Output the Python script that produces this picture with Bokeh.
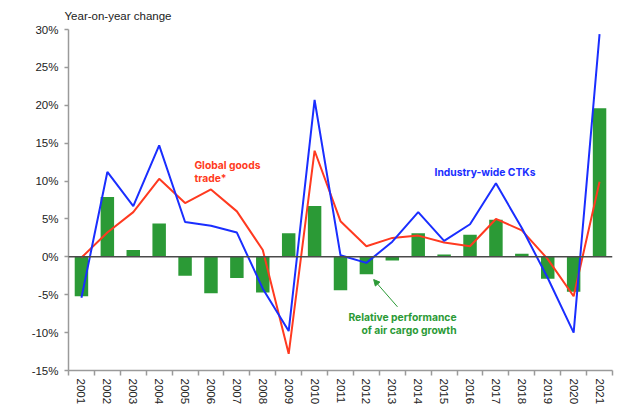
from bokeh.plotting import figure
from bokeh.models import FixedTicker, Span, Label, Arrow, NormalHead
from bokeh.embed import file_html
from bokeh.resources import INLINE

years = list(range(2001, 2022))
ctks = [-5.4, 11.2, 6.7, 14.7, 4.6, 4.1, 3.2, -4.2, -9.8, 20.7, 0.2, -0.8, 2.0, 5.9, 2.1, 4.3, 9.7, 3.8, -2.8, -10.0, 29.4]
goods = [-0.1, 3.2, 5.9, 10.3, 7.1, 8.9, 6.0, 0.9, -12.8, 14.0, 4.7, 1.4, 2.5, 2.8, 1.9, 1.4, 5.0, 3.5, -0.3, -5.2, 9.9]
relative = [-5.2, 7.9, 0.9, 4.4, -2.5, -4.8, -2.8, -4.7, 3.1, 6.7, -4.4, -2.3, -0.5, 3.1, 0.3, 2.9, 4.9, 0.4, -2.9, -4.6, 19.6]
y_ticks = [-15, -10, -5, 0, 5, 10, 15, 20, 25, 30]
y_labels = {t: f"{t}%" for t in y_ticks}

BLUE = "#1a2eff"
RED = "#ff3a20"
GREEN = "#2b9a36"
FONT = "Liberation Sans"
BOLD = "Inter"

p = figure(width=640, height=407, output_backend="svg", toolbar_location=None,
           x_range=(years[0] - 0.5, years[-1] + 0.5), y_range=(y_ticks[0], y_ticks[-1]),
           min_border_left=68, min_border_right=28, min_border_top=29, min_border_bottom=34,
           title="Year-on-year change")
p.title.align = "left"
p.title.offset = -4
p.title.standoff = 15
p.title.text_font = FONT
p.title.text_font_style = "normal"
p.title.text_font_size = "11.5px"
p.title.text_color = "#222222"

p.outline_line_color = None
p.xgrid.grid_line_color = None
p.ygrid.grid_line_color = None
p.background_fill_color = "white"
p.border_fill_color = "white"

p.vbar(x=years, top=relative, width=0.52, fill_color=GREEN, line_color=None)
p.add_layout(Span(location=0, dimension="width", line_color="#4a4a4a", line_width=1.5))
p.line(years, goods, line_color=RED, line_width=2)
p.line(years, ctks, line_color=BLUE, line_width=2)

# axes
xa = p.xaxis[0]
xa.ticker = FixedTicker(ticks=years, minor_ticks=[y - 0.5 for y in years] + [years[-1] + 0.5])
xa.major_label_overrides = {y: str(y) for y in years}
xa.major_label_orientation = "vertical"
xa.major_tick_out = 0
xa.major_tick_in = 0
xa.minor_tick_out = 5
xa.minor_tick_in = 0
xa.minor_tick_line_color = "#9a9a9a"
xa.minor_tick_line_width = 1.5
xa.axis_line_color = "#9a9a9a"
xa.axis_line_width = 1.5
xa.major_label_text_font = FONT
xa.major_label_text_font_size = "11.5px"
xa.major_label_text_color = "#222222"
xa.major_label_standoff = 3

ya = p.yaxis[0]
ya.ticker = FixedTicker(ticks=y_ticks)
ya.major_label_overrides = y_labels
ya.minor_tick_line_color = None
ya.major_tick_out = 4
ya.major_tick_in = 0
ya.major_tick_line_color = "#9a9a9a"
ya.major_tick_line_width = 1.5
ya.axis_line_color = "#9a9a9a"
ya.axis_line_width = 1.5
ya.major_label_text_font = FONT
ya.major_label_text_font_size = "11.5px"
ya.major_label_text_color = "#222222"
ya.major_label_standoff = 6

# annotations
ANN = "10.3px"
for txt, yy in [("Global goods", 12.1), ("trade*", 10.4)]:
    p.add_layout(Label(x=2005.36, y=yy, text=txt, text_font=BOLD, text_font_style="bold",
                       text_font_size=ANN, text_color=RED, text_baseline="middle", text_align="left"))
p.add_layout(Label(x=2014.63, y=11.2, text="Industry-wide CTKs", text_font=BOLD, text_font_style="bold",
                   text_font_size=ANN, text_color=BLUE, text_baseline="middle", text_align="left"))
for txt, yy in [("Relative performance", -7.9), ("of air cargo growth", -9.6)]:
    p.add_layout(Label(x=2015.48, y=yy, text=txt, text_font=BOLD, text_font_style="bold",
                       text_font_size=ANN, text_color=GREEN, text_baseline="middle", text_align="right"))
p.add_layout(Arrow(x_start=2013.2, y_start=-6.6, x_end=2012.28, y_end=-3.0,
                   line_color=GREEN, line_width=1,
                   end=NormalHead(size=6, fill_color=GREEN, line_color=GREEN)))

open("out.html", "w").write(file_html(p, INLINE))
